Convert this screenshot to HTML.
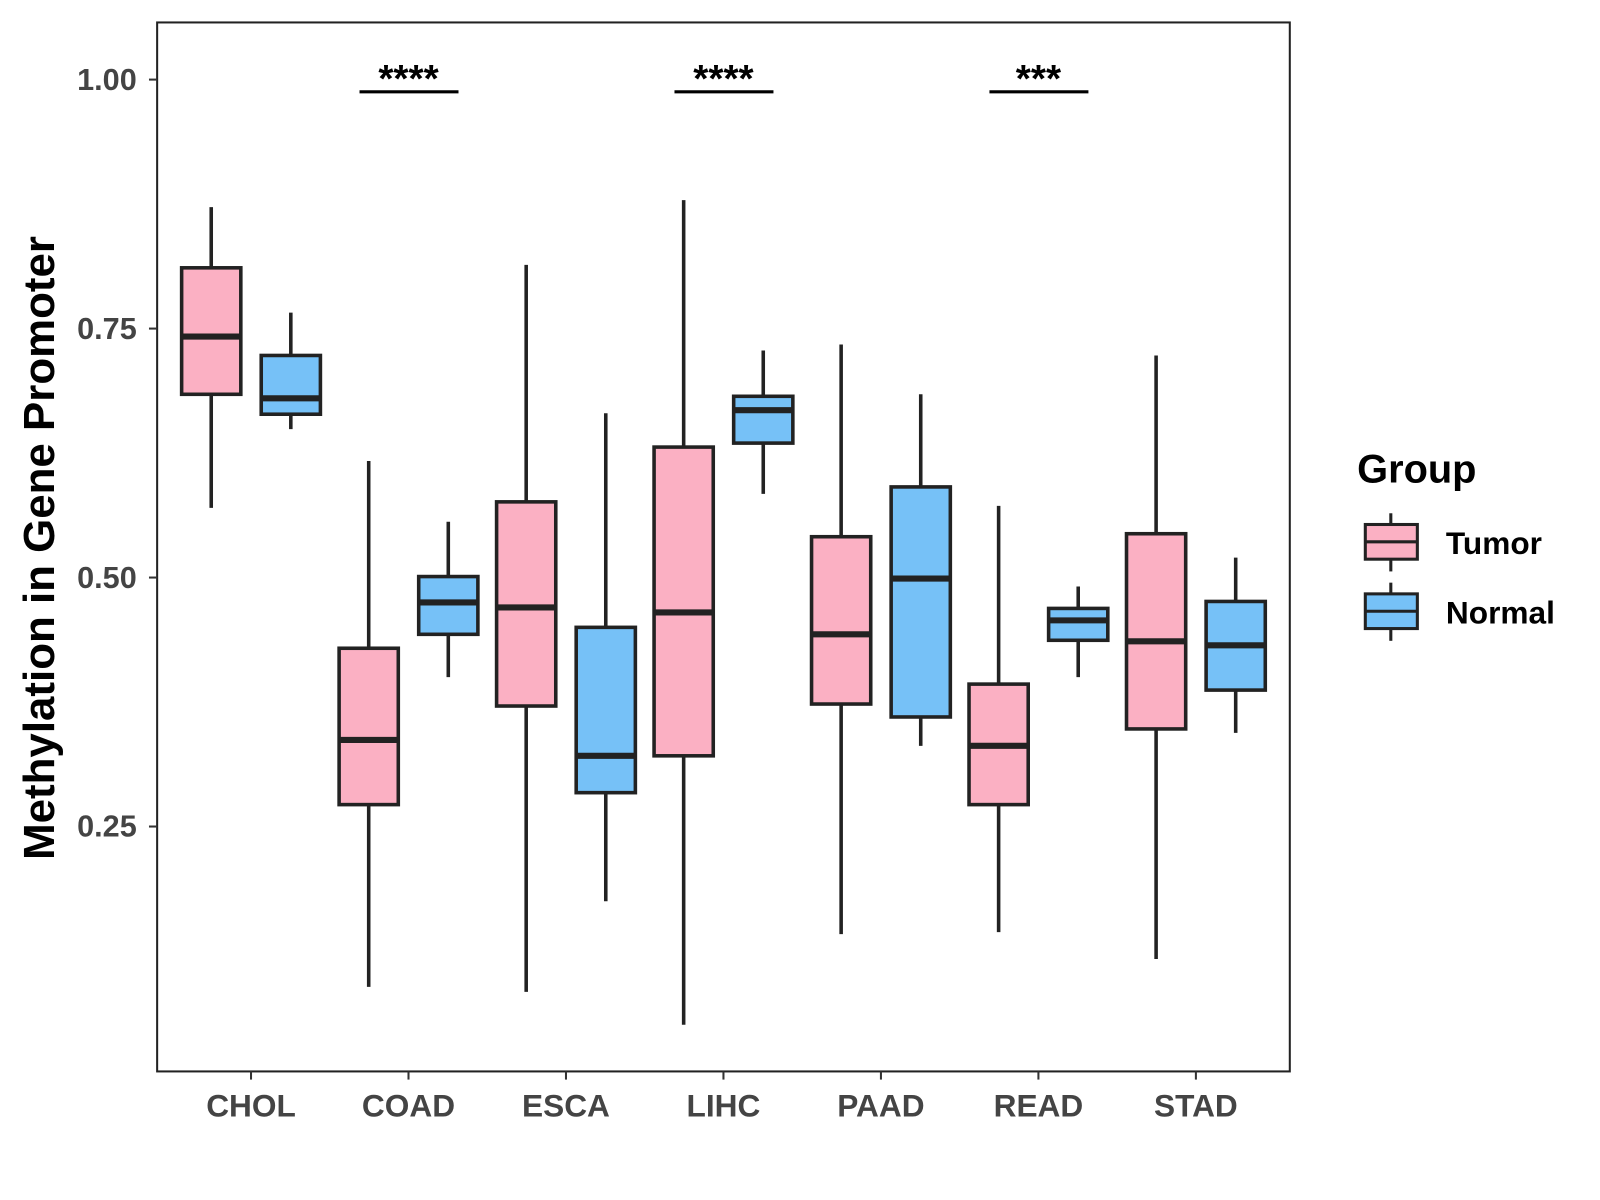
<!DOCTYPE html>
<html><head><meta charset="utf-8"><style>
body{margin:0;background:#fff}
svg{display:block}
text{font-family:"Liberation Sans",Arial,sans-serif;font-weight:bold}
</style></head><body>
<svg id="chart" width="1600" height="1200" viewBox="0 0 1568 1176" xmlns="http://www.w3.org/2000/svg">
<rect x="154" y="22" width="1110" height="1028" fill="#fff" stroke="#222" stroke-width="2"/>
<g id="ticks"></g><g id="boxes"></g><g id="sig"></g>
<text transform="translate(53,537) rotate(-90)" text-anchor="middle" font-size="43" fill="#000">Methylation in Gene Promoter</text>
<g>
<text x="1330" y="473" font-size="39" fill="#000">Group</text>
<g>
<line x1="1363" y1="503" x2="1363" y2="560" stroke="#222" stroke-width="3"/>
<rect x="1338" y="514" width="51" height="34" fill="#FBB0C3" stroke="#222" stroke-width="3"/>
<line x1="1338" y1="531" x2="1389" y2="531" stroke="#222" stroke-width="3"/>
<text x="1417" y="543" font-size="31" fill="#000">Tumor</text></g>
<g>
<line x1="1363" y1="571" x2="1363" y2="628" stroke="#222" stroke-width="3"/>
<rect x="1338" y="582" width="51" height="34" fill="#76C1F7" stroke="#222" stroke-width="3"/>
<line x1="1338" y1="599" x2="1389" y2="599" stroke="#222" stroke-width="3"/>
<text x="1417" y="611" font-size="31" fill="#000">Normal</text></g>
</g>
</svg>
<script>
const categories=["CHOL","COAD","ESCA","LIHC","PAAD","READ","STAD"];
const yTicks=[0.25,0.5,0.75,1.0];
const yTickLabels=["0.25","0.50","0.75","1.00"];
// [low, q1, median, q3, high]
const tumorStats=[[0.570,0.684,0.742,0.811,0.872],[0.089,0.272,0.337,0.429,0.617],[0.084,0.371,0.470,0.576,0.814],[0.051,0.321,0.465,0.631,0.879],[0.142,0.373,0.443,0.541,0.734],[0.144,0.272,0.331,0.393,0.572],[0.117,0.348,0.436,0.544,0.723]];
const normalStats=[[0.649,0.664,0.680,0.723,0.766],[0.400,0.443,0.475,0.501,0.556],[0.175,0.284,0.321,0.450,0.665],[0.584,0.635,0.668,0.682,0.728],[0.331,0.360,0.499,0.591,0.684],[0.400,0.437,0.457,0.469,0.491],[0.344,0.387,0.432,0.476,0.520]];
const sigCategories=["COAD","LIHC","READ"];
const sigLabels=["****","****","***"];
const NS="http://www.w3.org/2000/svg";
function y(v){return 78+(1-v)*976;}
function x(i){return 246+i*154.33;}
function mk(t,a,p){const e=document.createElementNS(NS,t);for(const k in a)e.setAttribute(k,a[k]);p.appendChild(e);return e;}
const tg=document.getElementById('ticks');
yTicks.forEach((v,i)=>{
 const l=mk('line',{x1:146,x2:154,y1:y(v),y2:y(v),stroke:'#333','stroke-width':2},tg);
 
 
 const t=mk('text',{x:134,y:y(v)+10,'text-anchor':'end','font-size':30,fill:'#444'},tg);
 t.textContent=yTickLabels[i];
 
 
});
categories.forEach((c,i)=>{
 const l=mk('line',{x1:x(i),x2:x(i),y1:1050,y2:1058,stroke:'#333','stroke-width':2},tg);
 
 
 const t=mk('text',{x:x(i),y:1094,'text-anchor':'middle','font-size':31,fill:'#444'},tg);
 t.textContent=c;
 
 
});
const bg=document.getElementById('boxes');
function box(s,cx,fill,name){
 const g=mk('g',{},bg);
 
 
 mk('line',{x1:cx,x2:cx,y1:y(s[4]),y2:y(s[0]),stroke:'#222','stroke-width':3.5},g);
 mk('rect',{x:cx-29,y:y(s[3]),width:58,height:y(s[1])-y(s[3]),fill:fill,stroke:'#222','stroke-width':3.5},g);
 mk('line',{x1:cx-29,x2:cx+29,y1:y(s[2]),y2:y(s[2]),stroke:'#222','stroke-width':6},g);
}
categories.forEach((c,i)=>{
 box(tumorStats[i],x(i)-39,'#FBB0C3','box-'+c.toLowerCase()+'-tumor');
 box(normalStats[i],x(i)+39,'#76C1F7','box-'+c.toLowerCase()+'-normal');
});
const sg=document.getElementById('sig');
sigCategories.forEach((c,k)=>{
 const i=categories.indexOf(c);
 const l=mk('line',{x1:x(i)-48,x2:x(i)+49,y1:90,y2:90,stroke:'#000','stroke-width':3},sg);
 
 
 const t=mk('text',{x:x(i),y:90,'text-anchor':'middle','font-size':38,fill:'#000'},sg);
 t.textContent=sigLabels[k];
 
 
});
</script>
</body></html>
